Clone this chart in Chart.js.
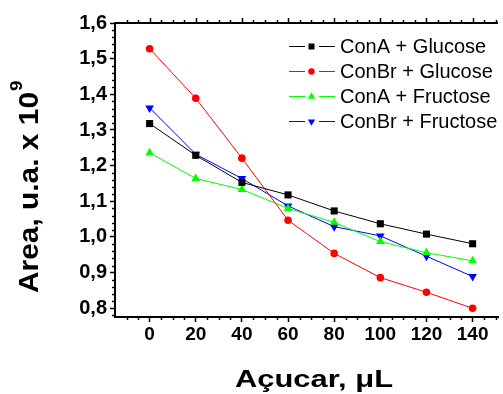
<!DOCTYPE html>
<html><head><meta charset="utf-8">
<script src="https://cdn.jsdelivr.net/npm/chart.js@4/dist/chart.umd.min.js"></script>
<style>html,body{margin:0;padding:0;background:#fff}#wrap{width:503px;height:394px;position:relative}</style>
</head><body><div id="wrap"><canvas id="c"></canvas></div>
<script>
const sugar = [0, 20, 40, 60, 80, 100, 120, 140];
const conAGlucose   = [1.318, 1.229, 1.153, 1.118, 1.073, 1.037, 1.008, 0.981];
const conBrGlucose  = [1.528, 1.389, 1.221, 1.047, 0.954, 0.886, 0.845, 0.800];
const conAFructose  = [1.236, 1.164, 1.133, 1.080, 1.041, 0.987, 0.956, 0.933];
const conBrFructose = [1.362, 1.232, 1.164, 1.087, 1.029, 1.003, 0.946, 0.889];
const seriesNames = ['ConA + Glucose', 'ConBr + Glucose', 'ConA + Fructose', 'ConBr + Fructose'];
const xTicks = [0, 20, 40, 60, 80, 100, 120, 140];
const yTicks = [0.8, 0.9, 1.0, 1.1, 1.2, 1.3, 1.4, 1.5, 1.6];
const xTitle = 'Açucar, μL';
const yTitle = 'Area, u.a. x 10';
const yTitleSup = '9';

const FONT = '"Liberation Sans", Arial, sans-serif';
const seriesValues = [conAGlucose, conBrGlucose, conAFructose, conBrFructose];
const seriesStyle = [
  {color: '#000000', pointStyle: 'rect', radius: 5, rotation: 0},
  {color: '#ff0000', pointStyle: 'circle', radius: 3.8, rotation: 0},
  {color: '#00ff00', pointStyle: 'triangle', radius: 5, rotation: 0},
  {color: '#0000ff', pointStyle: 'triangle', radius: 5, rotation: 180}
];

const datasets = seriesValues.map((vals, i) => ({
  label: seriesNames[i],
  data: sugar.map((x, j) => ({x: x, y: vals[j]})),
  borderColor: seriesStyle[i].color,
  backgroundColor: seriesStyle[i].color,
  borderWidth: 1,
  pointStyle: seriesStyle[i].pointStyle,
  pointRadius: seriesStyle[i].radius,
  pointHoverRadius: seriesStyle[i].radius,
  pointRotation: seriesStyle[i].rotation,
  pointBorderWidth: 0,
  tension: 0
}));

const decor = {
  id: 'decor',
  afterDraw(chart) {
    const ctx = chart.ctx;
    const a = chart.chartArea;
    const xs = chart.scales.x, ys = chart.scales.y;
    ctx.save();
    ctx.strokeStyle = '#000';
    // top axis line
    ctx.lineWidth = 2;
    ctx.beginPath(); ctx.moveTo(a.left - 1, a.top); ctx.lineTo(a.right, a.top); ctx.stroke();
    // x ticks (minor on bottom, all on top)
    ctx.lineWidth = 1.5;
    for (let v = -10; v <= xs.max; v += 5) {
      const px = Math.round(xs.getPixelForValue(v)) + 0.5;
      const major = xTicks.includes(v);
      const len = major ? 5 : 3;
      ctx.beginPath(); ctx.moveTo(px, a.top); ctx.lineTo(px, a.top - len); ctx.stroke();
      if (!major) { ctx.beginPath(); ctx.moveTo(px, a.bottom); ctx.lineTo(px, a.bottom + 3); ctx.stroke(); }
    }
    // y minor ticks
    for (let k = 39; k <= 80; k++) {
      const v = k / 50;
      if (k % 5 === 0) continue;
      if (v < ys.min) continue;
      const py = Math.round(ys.getPixelForValue(v)) + 0.5;
      ctx.beginPath(); ctx.moveTo(a.left, py); ctx.lineTo(a.left - 3, py); ctx.stroke();
    }
    // legend
    chart.data.datasets.forEach((ds, i) => {
      const y = 46 + i * 25;
      ctx.strokeStyle = ds.borderColor; ctx.lineWidth = 1;
      ctx.beginPath(); ctx.moveTo(289, y + 0.5); ctx.lineTo(305, y + 0.5); ctx.moveTo(319, y + 0.5); ctx.lineTo(335, y + 0.5); ctx.stroke();
      ctx.fillStyle = ds.backgroundColor;
      Chart.helpers.drawPoint(ctx, {pointStyle: ds.pointStyle, rotation: ds.pointRotation, radius: ds.pointRadius * 0.85, borderWidth: 0}, 311.5, y + 0.5);
      ctx.fillStyle = '#000';
      ctx.font = '20px ' + FONT;
      ctx.textBaseline = 'middle'; ctx.textAlign = 'left';
      ctx.fillText(ds.label, 340, y + 1);
    });
    // x title
    ctx.fillStyle = '#000';
    ctx.font = 'bold 24px ' + FONT;
    ctx.textBaseline = 'alphabetic'; ctx.textAlign = 'left';
    let w = ctx.measureText(xTitle).width;
    ctx.save();
    ctx.translate(235, 387);
    ctx.scale(158 / w, 1);
    ctx.fillText(xTitle, 0, 0);
    ctx.restore();
    // y title
    ctx.save();
    ctx.translate(38, 293);
    ctx.rotate(-Math.PI / 2);
    ctx.font = 'bold 27px ' + FONT;
    w = ctx.measureText(yTitle).width;
    const sx = 201 / w;
    ctx.scale(sx, 1);
    ctx.fillText(yTitle, 0, 0);
    ctx.font = 'bold 17px ' + FONT;
    ctx.fillText(yTitleSup, w + 1, -16);
    ctx.restore();
    ctx.restore();
  }
};

new Chart(document.getElementById('c'), {
  type: 'line',
  data: {datasets: datasets},
  options: {
    responsive: true,
    maintainAspectRatio: false,
    animation: false,
    events: [],
    layout: {padding: {top: 23, right: 0, left: 0, bottom: 0}},
    plugins: {legend: {display: false}, tooltip: {enabled: false}},
    scales: {
      x: {
        type: 'linear', position: 'bottom', min: -15, max: 151,
        afterBuildTicks: s => { s.ticks = xTicks.map(v => ({value: v})); },
        afterFit: s => { s.height = 77; },
        ticks: {font: {family: FONT, size: 19, weight: 'bold'}, color: '#000', padding: 1, maxRotation: 0, autoSkip: false},
        grid: {drawOnChartArea: false, drawTicks: true, tickLength: 5, tickColor: '#000', tickWidth: 1.5},
        border: {display: true, color: '#000', width: 2}
      },
      y: {
        type: 'linear', position: 'left', min: 0.7756, max: 1.6,
        afterBuildTicks: s => { s.ticks = yTicks.map(v => ({value: v})); },
        afterFit: s => { s.width = 115; },
        ticks: {font: {family: FONT, size: 20, weight: 'bold'}, color: '#000', padding: 3,
          callback: v => v.toFixed(1).replace('.', ',')},
        grid: {drawOnChartArea: false, drawTicks: true, tickLength: 5, tickColor: '#000', tickWidth: 1.5},
        border: {display: true, color: '#000', width: 2}
      }
    }
  },
  plugins: [decor]
});
</script>
</body></html>
